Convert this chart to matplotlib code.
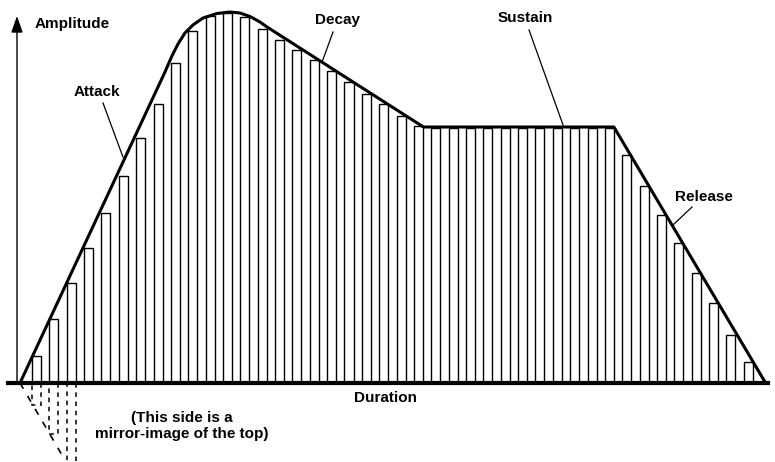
import numpy as np
import matplotlib.pyplot as plt

plt.rcParams['font.family'] = ['Liberation Sans', 'DejaVu Sans']

# sampled amplitude of each bar (one bar per time step)
bar_amp = [27, 64, 100, 135, 170, 207, 245, 279, 320, 352,
           367, 370, 366, 354, 343, 333, 323, 312, 301, 289,
           279, 267, 257,
           255, 255, 255, 255, 255, 255, 255, 255, 255, 255, 255,
           228, 197, 168, 140, 110, 80, 48, 21]

# envelope (ADSR)
env_t = [-0.69, 7.66, 8.06, 8.41, 8.81, 9.27, 9.85, 10.66, 11.41, 11.98,
         12.56, 13.13, 13.54, 22.55, 33.52, 42.26]
env_amp = [0, 311, 327, 339, 350, 358, 365, 369.5, 371, 370,
           366.5, 361, 356, 256, 256, 0]

mirror_scale = 0.8   # the lower half is drawn smaller
n_mirror = 3         # only the first bars are mirrored

fig = plt.figure(figsize=(7.75, 4.62), dpi=100)
ax = fig.add_axes([0, 0, 1, 1])
ax.set_xlim(-1.843, 42.80)
ax.set_ylim(-79, 383)
ax.axis('off')

idx = np.arange(len(bar_amp))
ax.bar(idx, bar_amp, width=0.52, align='edge', color='white',
       edgecolor='black', linewidth=1.0, zorder=2)

ax.plot(env_t, env_amp, color='black', lw=2.2, solid_joinstyle='round',
        zorder=4)

# mirror image below the axis (dashed)
mir = -mirror_scale * np.array(bar_amp[:n_mirror])
ax.bar(idx[:n_mirror], mir, width=0.52, align='edge', fill=False,
       edgecolor='black', linewidth=1.1, linestyle=(0, (3, 3)), zorder=2)
diag_t = np.array([env_t[0], 1.73])
diag_a = -mirror_scale * (env_amp[1] / (env_t[1] - env_t[0])) * (diag_t - env_t[0])
ax.plot(diag_t, diag_a, color='black', lw=1.2, linestyle=(0, (4, 5)), zorder=2)

# axes
ax.axhline(0, xmin=0.0103, xmax=0.991, color='black', lw=3, zorder=5)
ax.annotate('', xy=(-0.864, 367), xytext=(-0.864, 0),
            arrowprops=dict(arrowstyle='-|>,head_length=1.0,head_width=0.35',
                            color='black', lw=1.0, shrinkA=0, shrinkB=0))

tkw = dict(fontsize=11, fontweight='bold', color='black')
ax.text(0.17, 359, 'Amplitude', ha='left', va='center', **tkw)
ax.text(20.39, -15, 'Duration', ha='center', va='center', **tkw)
ax.text(8.64, -43, '(This side is a\nmirror-image of the top)', ha='center',
        va='center', linespacing=1.25, **tkw)

labels = [('Attack', 3.72, 291, (4.09, 280), (5.24, 226)),
          ('Decay', 17.6, 363, (17.34, 351), (16.71, 321)),
          ('Sustain', 28.43, 365, (28.63, 353), (30.59, 258)),
          ('Release', 38.71, 186, (38.02, 176), (36.92, 158))]
for name, tx, ty, p0, p1 in labels:
    ax.text(tx, ty, name, ha='center', va='center', **tkw)
    ax.plot([p0[0], p1[0]], [p0[1], p1[1]], color='black', lw=0.9, zorder=3)

fig.savefig('out.png', dpi=100, facecolor='white')
